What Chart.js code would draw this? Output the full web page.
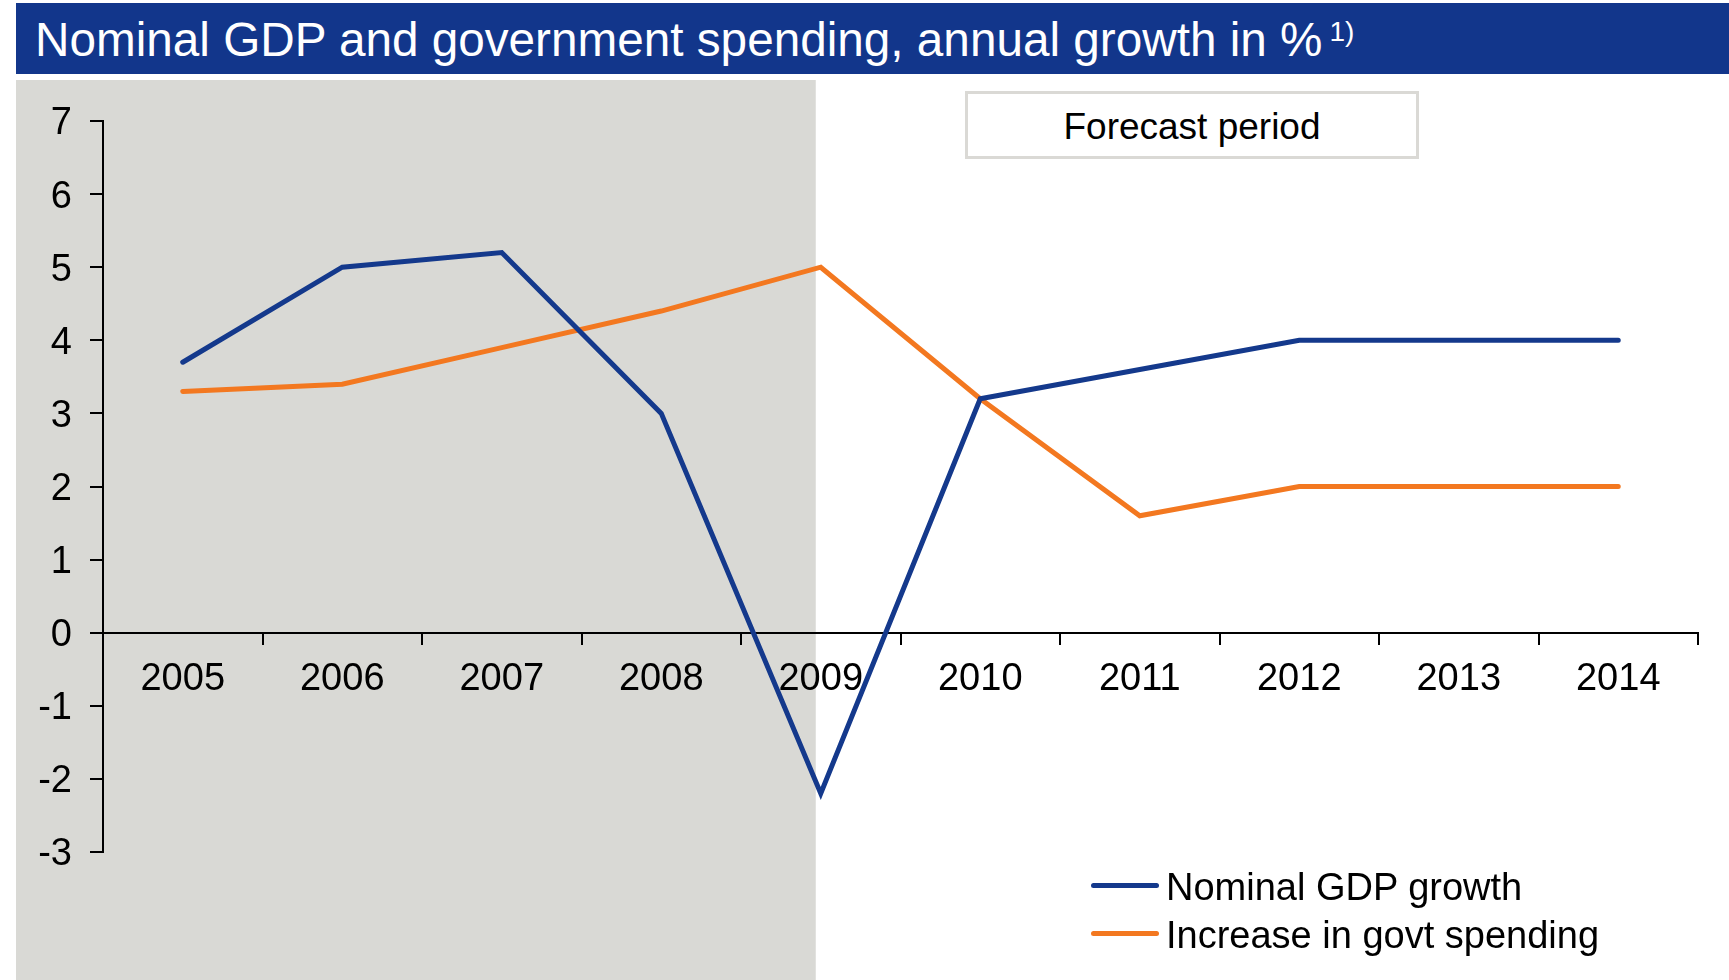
<!DOCTYPE html>
<html>
<head>
<meta charset="utf-8">
<script src="https://cdn.jsdelivr.net/npm/chart.js@4"></script>
<style>
  html, body { margin: 0; padding: 0; background: #fff; }
  body { width: 1729px; height: 980px; position: relative; overflow: hidden;
         font-family: "Liberation Sans", Arial, sans-serif; }
  #wrap { position: absolute; left: 0; top: 0; width: 1729px; height: 980px; }
  #title { position: absolute; left: 16px; top: 3px; right: 0; height: 71px;
           background: #12368b; color: #fff; font-size: 47.7px; line-height: 71px;
           padding-left: 19px; box-sizing: border-box; padding-top: 1px; white-space: nowrap; }
  #title sup { font-size: 28px; position: relative; top: -15px; vertical-align: baseline; margin-left: 7px; }
  #forecast { position: absolute; left: 965px; top: 91px; width: 454px; height: 68px;
              box-sizing: border-box; border: 3px solid #dad9d5; background: #fff;
              font-size: 37px; line-height: 62px; padding-top: 2px; text-align: center; color: #000; }
  .leg { position: absolute; height: 48px; font-size: 38px; line-height: 48px; color: #000; white-space: nowrap; }
  .leg .swatch { position: absolute; left: 0; top: 19.5px; width: 68px; height: 5px; border-radius: 3px; }
  .leg .txt { position: absolute; left: 75px; top: 0; }
</style>
</head>
<body>
<div id="wrap"><canvas id="gdpChart"></canvas></div>
<div id="title">Nominal GDP and government spending, annual growth in %<sup>1)</sup></div>
<div id="forecast">Forecast period</div>
<div id="legend"></div>
<script>
// values
var years = ["2005", "2006", "2007", "2008", "2009", "2010", "2011", "2012", "2013", "2014"];
var gdpGrowth = [3.7, 5.0, 5.2, 3.0, -2.2, 3.2, 3.6, 4.0, 4.0, 4.0];
var govtSpending = [3.3, 3.4, 3.9, 4.4, 5.0, 3.2, 1.6, 2.0, 2.0, 2.0];
var yMin = -3;
var yMax = 7;
var forecastFrom = "2009";

var FONT = '"Liberation Sans", Arial, sans-serif';
var BLUE = "#14398c";
var ORANGE = "#f37820";

// grey block behind the historical part of the chart
var shadePlugin = {
  id: "shade",
  beforeDraw: function (chart) {
    var ctx = chart.ctx;
    var x = chart.scales.x;
    var right = x.getPixelForValue(years.indexOf(forecastFrom)) - 5;
    ctx.save();
    ctx.fillStyle = "#d9d9d5";
    ctx.fillRect(16, 80, right - 16, chart.height - 80);
    ctx.restore();
  },
};

function make_line_chart(element) {
  var config = {
    type: "line",
    data: {
      labels: years,
      datasets: [
        { label: "Nominal GDP growth", data: gdpGrowth, borderColor: BLUE, backgroundColor: BLUE },
        { label: "Increase in govt spending", data: govtSpending, borderColor: ORANGE, backgroundColor: ORANGE },
      ],
    },
    options: {
      responsive: true,
      maintainAspectRatio: false,
      animation: false,
      layout: {
        autoPadding: false,
        padding: { left: 0, top: 121, right: 31, bottom: 128 },
      },
      elements: {
        line: { borderWidth: 5, tension: 0, borderCapStyle: "round", borderJoinStyle: "miter", fill: false },
        point: { radius: 0, hoverRadius: 0 },
      },
      plugins: {
        legend: { display: false },
        tooltip: { enabled: false },
      },
      scales: {
        x: {
          type: "category",
          position: { y: 0 },
          offset: true,
          grid: { offset: true, drawOnChartArea: false, drawTicks: true, tickLength: 11, color: "#000", lineWidth: 2 },
          border: { display: true, color: "#000", width: 2 },
          ticks: { color: "#000", font: { family: FONT, size: 38 }, padding: 13, maxRotation: 0, autoSkip: false },
          afterFit: function (scale) {
            scale.height = 0;
          },
        },
        y: {
          min: yMin,
          max: yMax,
          position: "left",
          grid: { drawOnChartArea: false, drawTicks: true, tickLength: 13, color: "#000", lineWidth: 2 },
          border: { display: true, color: "#000", width: 2 },
          ticks: { stepSize: 1, color: "#000", font: { family: FONT, size: 38 }, padding: 18, labelOffset: 3 },
          afterFit: function (scale) {
            scale.width = 103;
          },
        },
      },
    },
    plugins: [shadePlugin],
  };
  return new Chart(element, config);
}

function build_legend(chart) {
  var box = document.getElementById("legend");
  chart.data.datasets.forEach(function (ds, i) {
    var row = document.createElement("div");
    row.className = "leg";
    row.style.left = "1091px";
    row.style.top = (885 + i * 48 - 22) + "px";
    row.innerHTML = '<span class="swatch" style="background:' + ds.borderColor + '"></span><span class="txt"></span>';
    row.querySelector(".txt").textContent = ds.label;
    box.appendChild(row);
  });
}

var chart = make_line_chart(document.getElementById("gdpChart"));
build_legend(chart);
</script>
</body>
</html>
